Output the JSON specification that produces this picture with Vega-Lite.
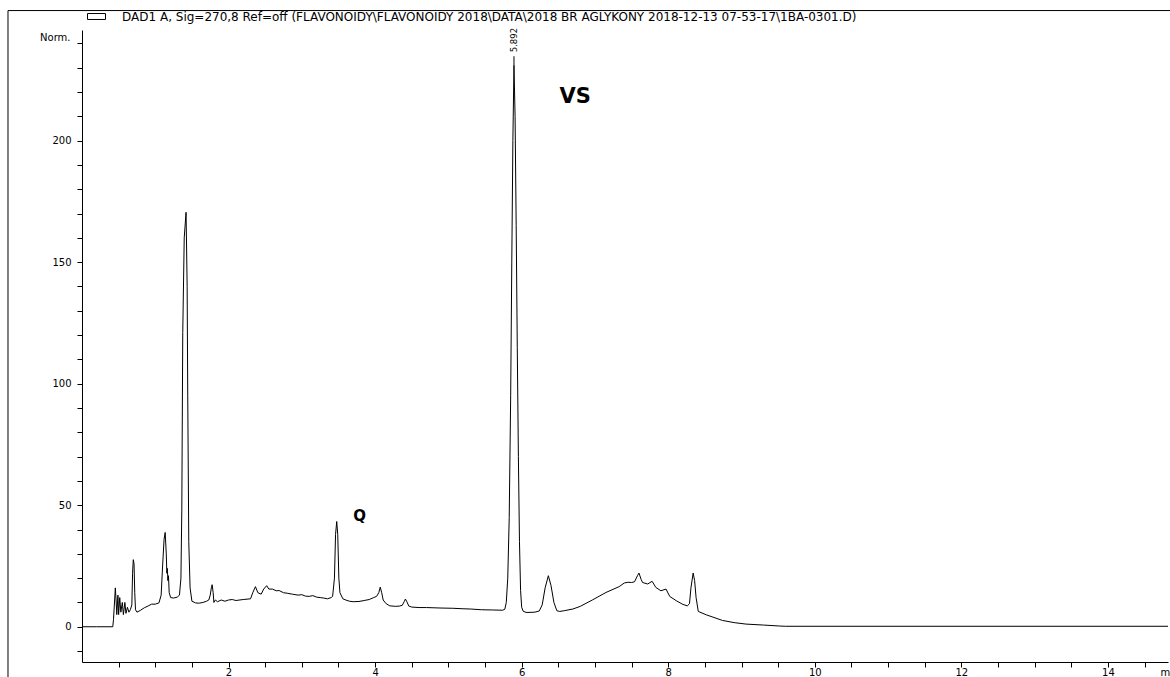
{
  "$schema": "https://vega.github.io/schema/vega-lite/v6.json",
  "width": 1086,
  "height": 632,
  "autosize": {"type": "none"},
  "padding": {"left": 82, "top": 30, "right": 2, "bottom": 15},
  "background": "white",
  "config": {
    "view": {"stroke": null},
    "font": "DejaVu Sans",
    "axis": {
      "grid": false, "labelOverlap": false, "labelFlush": false,
      "domainColor": "black", "domainWidth": 1, "tickColor": "black", "tickSize": 5, "tickWidth": 1,
      "labelFont": "DejaVu Sans", "labelFontSize": 10, "labelColor": "black",
      "titleFont": "DejaVu Sans", "titleFontSize": 10, "titleFontWeight": "normal", "titleColor": "black", "titleAngle": 0
    },
    "axisX": {"labelPadding": 0, "titleAlign": "left", "titleBaseline": "top", "titleX": 1078, "titleY": 5},
    "axisY": {"labelPadding": 6, "titleAlign": "right", "titleBaseline": "middle", "titleX": -12, "titleY": 7}
  },
  "layer": [
    {
      "data": {"values": [
        {"t":0,"v":0},{"t":0.2,"v":0},{"t":0.42,"v":0},{"t":0.43,"v":3},{"t":0.455,"v":16},{"t":0.465,"v":11},{"t":0.475,"v":5},{"t":0.49,"v":13},{"t":0.5,"v":5},{"t":0.515,"v":12},{"t":0.53,"v":6},{"t":0.55,"v":10},{"t":0.565,"v":5},{"t":0.585,"v":10},{"t":0.6,"v":5.5},{"t":0.62,"v":8},{"t":0.64,"v":6},{"t":0.66,"v":7},{"t":0.68,"v":9},{"t":0.69,"v":22},{"t":0.70,"v":27.6},{"t":0.71,"v":26},{"t":0.72,"v":14},{"t":0.73,"v":7},{"t":0.75,"v":6},{"t":0.8,"v":6.8},{"t":0.85,"v":7.8},{"t":0.9,"v":8.5},{"t":0.95,"v":9.3},{"t":1.0,"v":9.3},{"t":1.05,"v":9.8},{"t":1.08,"v":13},{"t":1.10,"v":25},{"t":1.12,"v":36},{"t":1.135,"v":38.8},{"t":1.15,"v":30},{"t":1.158,"v":22},{"t":1.165,"v":24},{"t":1.172,"v":19},{"t":1.18,"v":21},{"t":1.19,"v":14},{"t":1.21,"v":12},{"t":1.25,"v":11.8},{"t":1.3,"v":12.2},{"t":1.33,"v":13},{"t":1.35,"v":20},{"t":1.362,"v":48},{"t":1.375,"v":121},{"t":1.395,"v":160},{"t":1.42,"v":170.5},{"t":1.435,"v":140},{"t":1.443,"v":95},{"t":1.457,"v":35},{"t":1.475,"v":16},{"t":1.5,"v":10.5},{"t":1.55,"v":9.8},{"t":1.6,"v":9.7},{"t":1.65,"v":10},{"t":1.7,"v":10.5},{"t":1.73,"v":11},{"t":1.75,"v":13},{"t":1.765,"v":16},{"t":1.776,"v":17.3},{"t":1.79,"v":14},{"t":1.80,"v":10},{"t":1.82,"v":11},{"t":1.85,"v":10.3},{"t":1.9,"v":11},{"t":1.95,"v":10.5},{"t":2.0,"v":11},{"t":2.05,"v":11.2},{"t":2.1,"v":10.8},{"t":2.2,"v":11.2},{"t":2.3,"v":11.5},{"t":2.33,"v":14},{"t":2.367,"v":16.5},{"t":2.40,"v":14},{"t":2.445,"v":13.4},{"t":2.48,"v":15.5},{"t":2.52,"v":16.9},{"t":2.55,"v":15.5},{"t":2.6,"v":15.5},{"t":2.65,"v":14.8},{"t":2.69,"v":14.9},{"t":2.75,"v":14},{"t":2.8,"v":13.8},{"t":2.87,"v":13.4},{"t":2.95,"v":13},{"t":3.0,"v":13.2},{"t":3.05,"v":12.6},{"t":3.1,"v":12.5},{"t":3.15,"v":12.8},{"t":3.2,"v":12.2},{"t":3.25,"v":12},{"t":3.3,"v":11.8},{"t":3.35,"v":11.5},{"t":3.40,"v":12},{"t":3.42,"v":12.5},{"t":3.445,"v":20},{"t":3.46,"v":38},{"t":3.476,"v":43.3},{"t":3.49,"v":38},{"t":3.505,"v":20},{"t":3.52,"v":14},{"t":3.56,"v":11.5},{"t":3.6,"v":11},{"t":3.65,"v":10.5},{"t":3.7,"v":10.3},{"t":3.78,"v":10.4},{"t":3.85,"v":10.8},{"t":3.92,"v":11.2},{"t":3.98,"v":12},{"t":4.02,"v":12.5},{"t":4.05,"v":14},{"t":4.07,"v":16.3},{"t":4.09,"v":14},{"t":4.11,"v":11},{"t":4.15,"v":9.5},{"t":4.2,"v":8.6},{"t":4.28,"v":8.4},{"t":4.33,"v":8.5},{"t":4.37,"v":8.8},{"t":4.40,"v":10.5},{"t":4.413,"v":11.4},{"t":4.43,"v":10.5},{"t":4.46,"v":8.5},{"t":4.5,"v":8.1},{"t":4.6,"v":7.9},{"t":4.7,"v":7.9},{"t":4.9,"v":7.7},{"t":5.06,"v":7.6},{"t":5.2,"v":7.4},{"t":5.3,"v":7.3},{"t":5.45,"v":7.0},{"t":5.6,"v":6.9},{"t":5.74,"v":6.8},{"t":5.77,"v":7.2},{"t":5.79,"v":10},{"t":5.81,"v":20},{"t":5.83,"v":45},{"t":5.85,"v":95},{"t":5.865,"v":150},{"t":5.88,"v":200},{"t":5.895,"v":231},{"t":5.91,"v":210},{"t":5.925,"v":165},{"t":5.94,"v":115},{"t":5.955,"v":70},{"t":5.97,"v":35},{"t":5.985,"v":15},{"t":6.0,"v":8},{"t":6.02,"v":6.4},{"t":6.06,"v":5.9},{"t":6.1,"v":5.9},{"t":6.18,"v":6.0},{"t":6.24,"v":6.5},{"t":6.28,"v":9},{"t":6.32,"v":16},{"t":6.364,"v":21},{"t":6.40,"v":17},{"t":6.44,"v":10},{"t":6.48,"v":6.6},{"t":6.52,"v":6.3},{"t":6.58,"v":6.6},{"t":6.7,"v":7.3},{"t":6.8,"v":8.4},{"t":6.97,"v":11.1},{"t":7.15,"v":14.1},{"t":7.33,"v":16.5},{"t":7.40,"v":18},{"t":7.45,"v":18.3},{"t":7.5,"v":18.2},{"t":7.54,"v":18.5},{"t":7.58,"v":21},{"t":7.60,"v":22.1},{"t":7.63,"v":19.5},{"t":7.65,"v":18.2},{"t":7.72,"v":17.6},{"t":7.78,"v":18.7},{"t":7.83,"v":16.2},{"t":7.9,"v":14.8},{"t":7.97,"v":15.5},{"t":8.02,"v":12.5},{"t":8.11,"v":10.7},{"t":8.2,"v":9.2},{"t":8.26,"v":8.6},{"t":8.29,"v":9.5},{"t":8.31,"v":16},{"t":8.34,"v":22.1},{"t":8.36,"v":19},{"t":8.38,"v":12},{"t":8.41,"v":6.3},{"t":8.52,"v":4.9},{"t":8.74,"v":2.6},{"t":8.9,"v":1.7},{"t":9.06,"v":1.1},{"t":9.3,"v":0.7},{"t":9.52,"v":0.3},{"t":9.6,"v":0.2},{"t":14.82,"v":0.2}
      ]},
      "mark": {"type": "line", "strokeWidth": 1, "interpolate": "linear"},
      "encoding": {
        "x": {
          "field": "t", "type": "quantitative",
          "scale": {"domain": [0, 14.82], "nice": false, "zero": false},
          "axis": {"values": [0.5,1,1.5,2,2.5,3,3.5,4,4.5,5,5.5,6,6.5,7,7.5,8,8.5,9,9.5,10,10.5,11,11.5,12,12.5,13,13.5,14,14.5], "labelExpr": "datum.value % 2 === 0 ? '' + datum.value : ''", "title": "min"}
        },
        "y": {
          "field": "v", "type": "quantitative",
          "scale": {"domain": [-14.5, 245.5], "nice": false, "zero": false},
          "axis": {"values": [-10,0,10,20,30,40,50,60,70,80,90,100,110,120,130,140,150,160,170,180,190,200,210,220,230,240], "labelExpr": "datum.value % 50 === 0 ? '' + datum.value : ''", "title": "Norm."}
        },
        "stroke": {
          "datum": "DAD1 A, Sig=270,8 Ref=off (FLAVONOIDY\\FLAVONOIDY 2018\\DATA\\2018 BR AGLYKONY 2018-12-13 07-53-17\\1BA-0301.D)",
          "scale": {"range": ["black"]},
          "legend": {
            "orient": "none", "legendX": 5, "legendY": -23, "title": null, "padding": 0,
            "symbolType": "M-1,-0.33H1V0.33H-1Z", "symbolSize": 324,
            "symbolStrokeColor": "black", "symbolFillColor": "white", "symbolStrokeWidth": 1,
            "labelFont": "DejaVu Sans", "labelFontSize": 12, "labelColor": "black", "labelLimit": 0, "labelOffset": 16
          }
        }
      }
    },
    {
      "data": {"values": [{"frame": "left"}]},
      "mark": {"type": "rule", "color": "black", "strokeWidth": 1, "clip": false},
      "encoding": {
        "x": {"datum": -1.01, "type": "quantitative", "axis": {"values": [0.5,1,1.5,2,2.5,3,3.5,4,4.5,5,5.5,6,6.5,7,7.5,8,8.5,9,9.5,10,10.5,11,11.5,12,12.5,13,13.5,14,14.5], "labelExpr": "datum.value % 2 === 0 ? '' + datum.value : ''", "title": "min"}},
        "y": {"datum": 253.5, "type": "quantitative", "axis": {"values": [-10,0,10,20,30,40,50,60,70,80,90,100,110,120,130,140,150,160,170,180,190,200,210,220,230,240], "labelExpr": "datum.value % 50 === 0 ? '' + datum.value : ''", "title": "Norm."}},
        "y2": {"datum": -30}
      }
    },
    {
      "data": {"values": [{"frame": "top"}]},
      "mark": {"type": "rule", "color": "black", "strokeWidth": 1, "clip": false},
      "encoding": {
        "x": {"datum": -1.01, "type": "quantitative", "axis": {"values": [0.5,1,1.5,2,2.5,3,3.5,4,4.5,5,5.5,6,6.5,7,7.5,8,8.5,9,9.5,10,10.5,11,11.5,12,12.5,13,13.5,14,14.5], "labelExpr": "datum.value % 2 === 0 ? '' + datum.value : ''", "title": "min"}},
        "x2": {"datum": 16},
        "y": {"datum": 253.5, "type": "quantitative", "axis": {"values": [-10,0,10,20,30,40,50,60,70,80,90,100,110,120,130,140,150,160,170,180,190,200,210,220,230,240], "labelExpr": "datum.value % 50 === 0 ? '' + datum.value : ''", "title": "Norm."}}
      }
    },
    {
      "data": {"values": [{"t": 5.895, "v": 231, "label": "5.892"}]},
      "mark": {"type": "rule", "color": "black", "strokeWidth": 1, "y2Offset": -9},
      "encoding": {
        "x": {"field": "t", "type": "quantitative", "axis": {"values": [0.5,1,1.5,2,2.5,3,3.5,4,4.5,5,5.5,6,6.5,7,7.5,8,8.5,9,9.5,10,10.5,11,11.5,12,12.5,13,13.5,14,14.5], "labelExpr": "datum.value % 2 === 0 ? '' + datum.value : ''", "title": "min"}},
        "y": {"field": "v", "type": "quantitative", "axis": {"values": [-10,0,10,20,30,40,50,60,70,80,90,100,110,120,130,140,150,160,170,180,190,200,210,220,230,240], "labelExpr": "datum.value % 50 === 0 ? '' + datum.value : ''", "title": "Norm."}},
        "y2": {"field": "v"}
      }
    },
    {
      "data": {"values": [{"t": 5.895, "v": 231, "label": "5.892"}]},
      "mark": {"type": "text", "angle": 270, "align": "left", "baseline": "middle", "yOffset": -13, "font": "DejaVu Sans", "fontSize": 8.5, "color": "black"},
      "encoding": {
        "x": {"field": "t", "type": "quantitative", "axis": {"values": [0.5,1,1.5,2,2.5,3,3.5,4,4.5,5,5.5,6,6.5,7,7.5,8,8.5,9,9.5,10,10.5,11,11.5,12,12.5,13,13.5,14,14.5], "labelExpr": "datum.value % 2 === 0 ? '' + datum.value : ''", "title": "min"}},
        "y": {"field": "v", "type": "quantitative", "axis": {"values": [-10,0,10,20,30,40,50,60,70,80,90,100,110,120,130,140,150,160,170,180,190,200,210,220,230,240], "labelExpr": "datum.value % 50 === 0 ? '' + datum.value : ''", "title": "Norm."}},
        "text": {"field": "label"}
      }
    },
    {
      "data": {"values": [{"t": 6.73, "v": 218, "label": "VS"}]},
      "mark": {"type": "text", "align": "center", "baseline": "middle", "font": "DejaVu Sans", "fontWeight": "bold", "fontSize": 21, "color": "black"},
      "encoding": {
        "x": {"field": "t", "type": "quantitative", "axis": {"values": [0.5,1,1.5,2,2.5,3,3.5,4,4.5,5,5.5,6,6.5,7,7.5,8,8.5,9,9.5,10,10.5,11,11.5,12,12.5,13,13.5,14,14.5], "labelExpr": "datum.value % 2 === 0 ? '' + datum.value : ''", "title": "min"}},
        "y": {"field": "v", "type": "quantitative", "axis": {"values": [-10,0,10,20,30,40,50,60,70,80,90,100,110,120,130,140,150,160,170,180,190,200,210,220,230,240], "labelExpr": "datum.value % 50 === 0 ? '' + datum.value : ''", "title": "Norm."}},
        "text": {"field": "label"}
      }
    },
    {
      "data": {"values": [{"t": 3.79, "v": 45.7, "label": "Q"}]},
      "mark": {"type": "text", "align": "center", "baseline": "middle", "font": "DejaVu Sans", "fontWeight": "bold", "fontSize": 15, "color": "black"},
      "encoding": {
        "x": {"field": "t", "type": "quantitative", "axis": {"values": [0.5,1,1.5,2,2.5,3,3.5,4,4.5,5,5.5,6,6.5,7,7.5,8,8.5,9,9.5,10,10.5,11,11.5,12,12.5,13,13.5,14,14.5], "labelExpr": "datum.value % 2 === 0 ? '' + datum.value : ''", "title": "min"}},
        "y": {"field": "v", "type": "quantitative", "axis": {"values": [-10,0,10,20,30,40,50,60,70,80,90,100,110,120,130,140,150,160,170,180,190,200,210,220,230,240], "labelExpr": "datum.value % 50 === 0 ? '' + datum.value : ''", "title": "Norm."}},
        "text": {"field": "label"}
      }
    }
  ]
}
